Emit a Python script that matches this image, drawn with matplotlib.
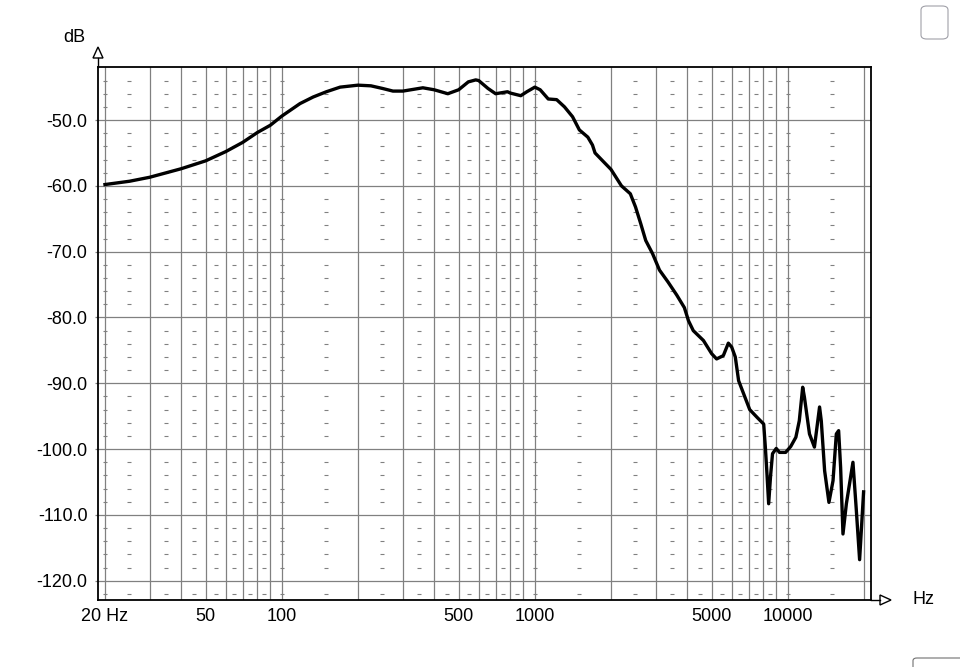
import numpy as np
import matplotlib
matplotlib.use('Agg')
import matplotlib.pyplot as plt
from matplotlib.patches import Polygon, FancyBboxPatch
from matplotlib.lines import Line2D
from matplotlib.ticker import NullLocator, FixedLocator

plt.rcParams['font.family'] = ['Liberation Sans', 'DejaVu Sans']

# ---- data ----
freq_hz = [20, 25, 30, 40, 50, 60, 70, 80, 90, 100, 118, 133, 150, 170, 200, 225, 250,
           275, 301, 361, 400, 453, 500, 546, 584, 600, 653, 700, 780, 800, 880, 930,
           1000, 1050, 1130, 1220, 1310, 1410, 1500, 1620, 1690, 1730, 1865, 2000,
           2200, 2385, 2500, 2620, 2744, 2920, 3110, 3360, 3640, 3900, 4050, 4230,
           4640, 5000, 5230, 5560, 5820, 6000, 6200, 6390, 6690, 7070, 7570, 8030,
           8150, 8250, 8400, 8550, 8700, 9000, 9270, 9800, 10270, 10760, 11100, 11450,
           11630, 12180, 12740, 13350, 13560, 13980, 14540, 15090, 15550, 15880, 16170,
           16520, 17040, 18090, 18640, 19220, 19930]
level_db = [-59.8, -59.3, -58.7, -57.4, -56.2, -54.8, -53.4, -51.9, -50.8, -49.4, -47.5,
            -46.5, -45.7, -45.0, -44.7, -44.8, -45.2, -45.6, -45.6, -45.1, -45.4, -46.0,
            -45.4, -44.2, -43.9, -44.0, -45.2, -46.0, -45.7, -45.9, -46.3, -45.7, -45.0,
            -45.4, -46.8, -46.9, -48.0, -49.5, -51.5, -52.6, -53.8, -55.0, -56.3, -57.5,
            -60.0, -61.2, -63.2, -65.7, -68.3, -70.3, -72.8, -74.6, -76.6, -78.5, -80.5,
            -82.0, -83.5, -85.5, -86.3, -85.8, -83.9, -84.5, -86.0, -89.6, -91.6, -94.0,
            -95.2, -96.2, -99.7, -103.0, -108.3, -104.0, -100.7, -99.9, -100.5, -100.5,
            -99.6, -98.2, -95.7, -90.6, -92.1, -97.7, -99.7, -93.6, -95.7, -103.3,
            -108.1, -104.8, -97.7, -97.2, -102.8, -112.9, -108.3, -102.0, -109.1,
            -116.8, -106.5]

y_ticks = [-50, -60, -70, -80, -90, -100, -110, -120]
y_tick_labels = ['-50.0', '-60.0', '-70.0', '-80.0', '-90.0', '-100.0', '-110.0', '-120.0']
x_grid = [20, 30, 40, 50, 60, 70, 80, 90, 100, 200, 300, 400, 500, 600, 700, 800, 900,
          1000, 2000, 3000, 4000, 5000, 6000, 7000, 8000, 9000, 10000, 20000]
x_labeled = {20: '20 Hz', 50: '50', 100: '100', 500: '500', 1000: '1000',
             5000: '5000', 10000: '10000'}
dash_x = [20, 25, 35, 45, 55, 65, 75, 85, 100, 150, 250, 350, 450, 550, 650, 750, 850,
          1000, 1500, 2500, 3500, 4500, 5500, 6500, 7500, 8500, 10000, 15000]
dash_y = [v for v in range(-44, -123, -2) if v % 10 != 0]

W, H = 960, 667
fig = plt.figure(figsize=(W / 100, H / 100), dpi=100)
fig.patch.set_facecolor('white')
L, R, T, B = 98, 871, 67, 600
ax = fig.add_axes([L / W, 1 - B / H, (R - L) / W, (B - T) / H])
ax.set_xscale('log')
ax.set_xlim(18.77, 21320)
ax.set_ylim(-122.93, -41.94)

grid_c = '#808080'
for xv in x_grid:
    ax.axvline(xv, color=grid_c, lw=0.9, zorder=1)
for yv in y_ticks:
    ax.axhline(yv, color=grid_c, lw=0.9, zorder=1)

dx, dy = np.meshgrid(dash_x, dash_y)
ax.plot(dx.ravel(), dy.ravel(), linestyle='none', marker='_', markersize=3,
        markeredgewidth=0.8, color=grid_c, zorder=1)

ax.plot(freq_hz, level_db, color='black', lw=2.4, solid_joinstyle='round', zorder=3)

ax.xaxis.set_major_locator(FixedLocator(list(x_labeled.keys())))
ax.set_xticklabels(list(x_labeled.values()))
ax.xaxis.set_minor_locator(NullLocator())
ax.set_yticks(y_ticks)
ax.set_yticklabels(y_tick_labels)
ax.tick_params(axis='x', length=0, pad=5.5, labelsize=13, colors='black')
ax.tick_params(axis='y', length=2.5, width=0.9, pad=5, labelsize=13, color=grid_c,
               labelcolor='black')
for sp in ax.spines.values():
    sp.set_color('black')
    sp.set_linewidth(1.3)

def fx(px):
    return px / W

def fy(py):
    return 1 - py / H

# axis arrows
fig.add_artist(Line2D([fx(L), fx(L)], [fy(T), fy(58)], color='black', lw=1.0,
                      transform=fig.transFigure))
fig.add_artist(Polygon([[fx(L), fy(47)], [fx(L - 5), fy(58)], [fx(L + 5), fy(58)]],
                       closed=True, facecolor='white', edgecolor='black', lw=1.0,
                       transform=fig.transFigure))
fig.add_artist(Line2D([fx(R), fx(880)], [fy(B), fy(B)], color='black', lw=1.0,
                      transform=fig.transFigure))
fig.add_artist(Polygon([[fx(891), fy(B)], [fx(880), fy(B - 5)], [fx(880), fy(B + 5)]],
                       closed=True, facecolor='white', edgecolor='black', lw=1.0,
                       transform=fig.transFigure))

fig.text(fx(74), fy(37), 'dB', ha='center', va='center', fontsize=13)
fig.text(fx(924), fy(600), 'Hz', ha='center', va='center', fontsize=13)

# window decorations
fig.add_artist(FancyBboxPatch((fx(921), fy(39)), fx(948) - fx(921), fy(6) - fy(39),
                              boxstyle='round,pad=0,rounding_size=0.006',
                              facecolor='white', edgecolor='#a0a0a8', lw=0.8,
                              transform=fig.transFigure))
fig.add_artist(FancyBboxPatch((fx(913), fy(672)), fx(965) - fx(913), fy(658) - fy(672),
                              boxstyle='round,pad=0,rounding_size=0.004',
                              facecolor='white', edgecolor='#707070', lw=0.8,
                              transform=fig.transFigure, clip_on=False))

fig.savefig('out.png', dpi=100)
